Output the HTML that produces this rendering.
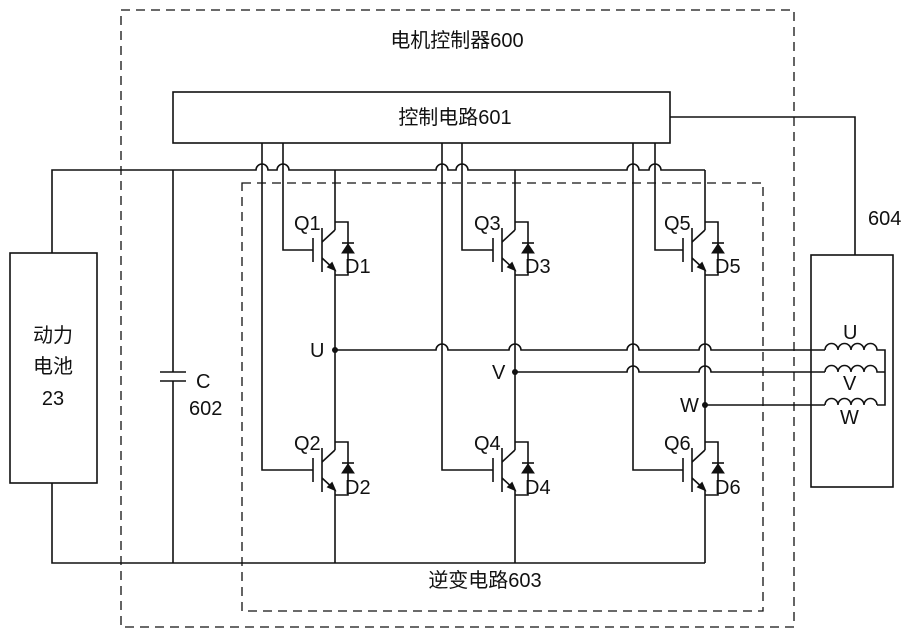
<!DOCTYPE html>
<html><head><meta charset="utf-8"><style>
html,body{margin:0;padding:0;background:#fff}
svg{display:block}
text{font-family:"Liberation Sans","Noto Sans CJK SC",sans-serif;fill:#111}
</style></head><body>
<svg width="913" height="637" viewBox="0 0 913 637" xmlns="http://www.w3.org/2000/svg">
<defs>
<g id="igbt" stroke="#111" stroke-width="1.6" fill="none">
<line x1="-22" y1="-12" x2="-22" y2="12"/>
<line x1="-13" y1="-22" x2="-13" y2="22"/>
<line x1="-13" y1="-8" x2="0" y2="-20"/>
<line x1="-13" y1="8" x2="0" y2="20"/>
<polygon points="0,20 -7,17 -3,13" fill="#111"/>
<polyline points="0,-28 13,-28 13,25 0,25"/>
<polygon points="7,3 19,3 13,-6" fill="#111" stroke-width="1"/>
<line x1="7" y1="-7" x2="19" y2="-7"/>
</g>
</defs>
<g stroke="#111" stroke-width="1.3" fill="none">
<rect x="121" y="10" width="673" height="617" stroke-dasharray="9,6"/>
<rect x="242" y="183" width="521" height="428" stroke-dasharray="9,6"/>
</g>
<g stroke="#111" stroke-width="1.6" fill="none">
<rect x="173" y="92" width="497" height="51" fill="#fff"/>
<rect x="10" y="253" width="87" height="230"/>
<rect x="811" y="255" width="82" height="232"/>
<polyline points="670,117 855,117 855,255"/>
<path d="M52,253 L52,170 L256,170 A6,6 0 0 1 268,170 L277,170 A6,6 0 0 1 289,170 L436,170 A6,6 0 0 1 448,170 L456,170 A6,6 0 0 1 468,170 L627,170 A6,6 0 0 1 639,170 L649,170 A6,6 0 0 1 661,170 L705,170"/>
<path d="M52,483 L52,563 L705,563"/>
<line x1="173" y1="170" x2="173" y2="372"/>
<line x1="160" y1="372" x2="186" y2="372"/>
<line x1="160" y1="381" x2="186" y2="381"/>
<line x1="173" y1="381" x2="173" y2="563"/>
<polyline points="283,143 283,250 313,250"/>
<polyline points="262,143 262,470 313,470"/>
<polyline points="462,143 462,250 493,250"/>
<polyline points="442,143 442,470 493,470"/>
<polyline points="655,143 655,250 683,250"/>
<polyline points="633,143 633,470 683,470"/>
<line x1="335" y1="170" x2="335" y2="230"/>
<line x1="335" y1="270" x2="335" y2="450"/>
<line x1="335" y1="490" x2="335" y2="563"/>
<line x1="515" y1="170" x2="515" y2="230"/>
<line x1="515" y1="270" x2="515" y2="450"/>
<line x1="515" y1="490" x2="515" y2="563"/>
<line x1="705" y1="170" x2="705" y2="230"/>
<line x1="705" y1="270" x2="705" y2="450"/>
<line x1="705" y1="490" x2="705" y2="563"/>
<path d="M335,350 L436,350 A6,6 0 0 1 448,350 L509,350 A6,6 0 0 1 521,350 L627,350 A6,6 0 0 1 639,350 L699,350 A6,6 0 0 1 711,350 L825,350"/>
<path d="M515,372 L627,372 A6,6 0 0 1 639,372 L699,372 A6,6 0 0 1 711,372 L825,372"/>
<path d="M705,405 L825,405"/>
<path d="M825,350 A6.5,6.5 0 0 1 838,350 A6.5,6.5 0 0 1 851,350 A6.5,6.5 0 0 1 864,350 A6.5,6.5 0 0 1 877,350 L885,350 L885,405 L877,405"/>
<path d="M825,372 A6.5,6.5 0 0 1 838,372 A6.5,6.5 0 0 1 851,372 A6.5,6.5 0 0 1 864,372 A6.5,6.5 0 0 1 877,372 L885,372"/>
<path d="M825,405 A6.5,6.5 0 0 1 838,405 A6.5,6.5 0 0 1 851,405 A6.5,6.5 0 0 1 864,405 A6.5,6.5 0 0 1 877,405"/>
</g>
<g fill="#111">
<circle cx="335" cy="350" r="3"/>
<circle cx="515" cy="372" r="3"/>
<circle cx="705" cy="405" r="3"/>
</g>
<use href="#igbt" x="335" y="250"/>
<use href="#igbt" x="335" y="470"/>
<use href="#igbt" x="515" y="250"/>
<use href="#igbt" x="515" y="470"/>
<use href="#igbt" x="705" y="250"/>
<use href="#igbt" x="705" y="470"/>
<g font-size="20">
<text x="457" y="47" text-anchor="middle">电机控制器600</text>
<text x="455" y="124" text-anchor="middle">控制电路601</text>
<text x="485" y="587" text-anchor="middle">逆变电路603</text>
<text x="53" y="342" text-anchor="middle">动力</text>
<text x="53" y="373" text-anchor="middle">电池</text>
<text x="53" y="405" text-anchor="middle">23</text>
<text x="196" y="388">C</text>
<text x="189" y="415">602</text>
<text x="868" y="225">604</text>
<text x="294" y="230">Q1</text><text x="345" y="273">D1</text>
<text x="474" y="230">Q3</text><text x="525" y="273">D3</text>
<text x="664" y="230">Q5</text><text x="715" y="273">D5</text>
<text x="294" y="450">Q2</text><text x="345" y="494">D2</text>
<text x="474" y="450">Q4</text><text x="525" y="494">D4</text>
<text x="664" y="450">Q6</text><text x="715" y="494">D6</text>
<text x="310" y="357">U</text>
<text x="492" y="379">V</text>
<text x="680" y="412">W</text>
<text x="843" y="339">U</text>
<text x="843" y="390">V</text>
<text x="840" y="424">W</text>
</g>
</svg>
</body></html>
